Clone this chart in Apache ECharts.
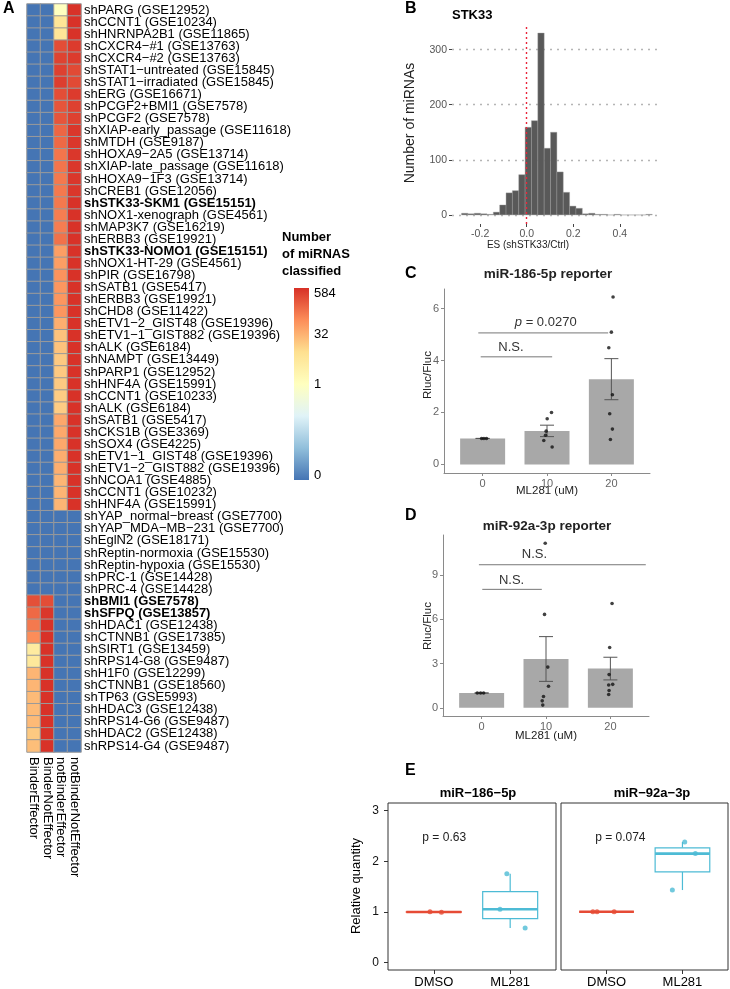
<!DOCTYPE html>
<html>
<head>
<meta charset="utf-8">
<script src="https://cdn.jsdelivr.net/npm/echarts@6/dist/echarts.min.js"></script>
<style>
  html, body { margin: 0; padding: 0; background: #fff; }
  #chart { width: 730px; height: 989px; }
</style>
</head>
<body>
<div id="chart"></div>
<script>
const FONT = "'Liberation Sans', Arial, Helvetica, sans-serif";

// ---- A: heatmap ----
const heatCols = ["BinderEffector", "BinderNotEffector", "notBinderEffector", "notBinderNotEffector"];
const heatRows = [
  "shPARG (GSE12952)", "shCCNT1 (GSE10234)", "shHNRNPA2B1 (GSE11865)", "shCXCR4−#1 (GSE13763)",
  "shCXCR4−#2 (GSE13763)", "shSTAT1−untreated (GSE15845)", "shSTAT1−irradiated (GSE15845)", "shERG (GSE16671)",
  "shPCGF2+BMI1 (GSE7578)", "shPCGF2 (GSE7578)", "shXIAP-early_passage (GSE11618)", "shMTDH (GSE9187)",
  "shHOXA9−2A5 (GSE13714)", "shXIAP-late_passage (GSE11618)", "shHOXA9−1F3 (GSE13714)", "shCREB1 (GSE12056)",
  "shSTK33-SKM1 (GSE15151)", "shNOX1-xenograph (GSE4561)", "shMAP3K7 (GSE16219)", "shERBB3 (GSE19921)",
  "shSTK33-NOMO1 (GSE15151)", "shNOX1-HT-29 (GSE4561)", "shPIR (GSE16798)", "shSATB1 (GSE5417)",
  "shERBB3 (GSE19921)", "shCHD8 (GSE11422)", "shETV1−2_GIST48 (GSE19396)", "shETV1−1_GIST882 (GSE19396)",
  "shALK (GSE6184)", "shNAMPT (GSE13449)", "shPARP1 (GSE12952)", "shHNF4A (GSE15991)",
  "shCCNT1 (GSE10233)", "shALK (GSE6184)", "shSATB1 (GSE5417)", "shCKS1B (GSE3369)",
  "shSOX4 (GSE4225)", "shETV1−1_GIST48 (GSE19396)", "shETV1−2_GIST882 (GSE19396)", "shNCOA1 (GSE4885)",
  "shCCNT1 (GSE10232)", "shHNF4A (GSE15991)", "shYAP_normal−breast (GSE7700)", "shYAP_MDA−MB−231 (GSE7700)",
  "shEglN2 (GSE18171)", "shReptin-normoxia (GSE15530)", "shReptin-hypoxia (GSE15530)", "shPRC-1 (GSE14428)",
  "shPRC-4 (GSE14428)", "shBMI1 (GSE7578)", "shSFPQ (GSE13857)", "shHDAC1 (GSE12438)",
  "shCTNNB1 (GSE17385)", "shSIRT1 (GSE13459)", "shRPS14-G8 (GSE9487)", "shH1F0 (GSE12299)",
  "shCTNNB1 (GSE18560)", "shTP63 (GSE5993)", "shHDAC3 (GSE12438)", "shRPS14-G6 (GSE9487)",
  "shHDAC2 (GSE12438)", "shRPS14-G4 (GSE9487)"
];
const boldRows = ["shSTK33-SKM1 (GSE15151)", "shSTK33-NOMO1 (GSE15151)", "shBMI1 (GSE7578)", "shSFPQ (GSE13857)"];

const binderEffector = [
  0, 0, 0, 0, 0, 0, 0, 0, 0, 0,
  0, 0, 0, 0, 0, 0, 0, 0, 0, 0,
  0, 0, 0, 0, 0, 0, 0, 0, 0, 0,
  0, 0, 0, 0, 0, 0, 0, 0, 0, 0,
  0, 0, 0, 0, 0, 0, 0, 0, 0,
  280, 160, 110, 70, 4, 5, 25, 25, 22, 22, 22, 15, 20
];
const binderNotEffector = [
  0, 0, 0, 0, 0, 0, 0, 0, 0, 0,
  0, 0, 0, 0, 0, 0, 0, 0, 0, 0,
  0, 0, 0, 0, 0, 0, 0, 0, 0, 0,
  0, 0, 0, 0, 0, 0, 0, 0, 0, 0,
  0, 0, 0, 0, 0, 0, 0, 0, 0,
  300, 500, 560, 560, 560, 560, 560, 560, 560, 560, 560, 560, 560
];
const notBinderEffector = [
  1, 6, 6, 300, 380, 400, 420, 300, 250, 250,
  170, 160, 120, 120, 110, 110, 110, 100, 100, 130,
  45, 45, 60, 55, 55, 55, 30, 18, 18, 15,
  15, 15, 14, 14, 35, 35, 35, 30, 30, 25,
  25, 25,
  0, 0, 0, 0, 0, 0, 0, 0, 0, 0,
  0, 0, 0, 0, 0, 0, 0, 0, 0, 0
];
const notBinderNotEffector = [
  560, 560, 560, 450, 450, 320, 320, 450, 400, 400,
  500, 500, 500, 500, 500, 500, 560, 560, 560, 560,
  560, 560, 560, 560, 560, 560, 560, 560, 560, 560,
  560, 560, 560, 560, 560, 560, 560, 560, 560, 560,
  560, 560,
  0, 0, 0, 0, 0, 0, 0, 0, 0, 0,
  0, 0, 0, 0, 0, 0, 0, 0, 0, 0
];
const legendTicks = [584, 32, 1, 0];
const heatPalette = ["#4575B4", "#91BFDB", "#E0F3F8", "#FFFFBF", "#FEE090", "#FC8D59", "#D73027"];

// ---- B: histogram ----
const histBinStart = -0.28;
const histBinWidth = 0.0273;
const histCounts = [3, 2, 3, 2, 1, 5, 18, 40, 44, 73, 159, 171, 330, 121, 150, 78, 41, 16, 12, 2, 3, 1, 1, 0, 1, 0, 0, 0, 0, 1];
const histXTicks = [-0.2, 0, 0.2, 0.4];
const histYTicks = [0, 100, 200, 300];

// ---- C: miR-186-5p reporter ----
const doses = [0, 10, 20];
const cMeans = [1.0, 1.29, 3.28];
const cSE = [0, 0.22, 0.79];
const cPointX = [-0.16, 0.2, 0.6, 10.7, 10.03, 9.87, 9.77, 9.5, 10.8, 20.26, 20.0, 19.6, 20.16, 19.74, 20.16, 19.85];
const cPointY = [1.0, 1.0, 1.0, 2.0, 1.76, 1.28, 1.12, 0.92, 0.67, 6.44, 5.09, 4.49, 2.68, 1.95, 1.36, 0.96];
const cSigLabels = ["{i|p} = 0.0270", "N.S."];
const cSig = [[-0.67, 19.5, 5.06, 9.8, 5.45], [-0.3, 10.8, 4.14, 4.4, 4.52]];
const cYTicks = [0, 2, 4, 6];

// ---- D: miR-92a-3p reporter ----
const dMeans = [1.0, 3.31, 2.66];
const dSE = [0, 1.52, 0.77];
const dPointX = [-0.67, -0.16, 0.31, 9.88, 9.77, 10.28, 10.39, 9.61, 9.41, 9.5, 20.26, 19.89, 19.8, 19.74, 20.36, 19.8, 19.74];
const dPointY = [1.0, 1.0, 1.0, 11.17, 6.34, 2.76, 1.46, 0.76, 0.47, 0.18, 7.08, 4.09, 2.25, 1.55, 1.59, 1.17, 0.9];
const dSigLabels = ["N.S.", "N.S."];
const dSig = [[-0.42, 25.5, 9.71, 8.2, 10.4], [0.1, 9.35, 8.04, 4.65, 8.65]];
const dYTicks = [0, 3, 6, 9];

// ---- E: qPCR ----
const eGroups = ["DMSO", "ML281"];
const eColors = ["#E64B35", "#4DBBD5"];
const e186DmsoX = [-0.05, 0.1];
const e186DmsoY = [1.0, 0.99];
const e186Ml281X = [0.956, 0.867, 1.196];
const e186Ml281Y = [1.75, 1.05, 0.68];
const e92DmsoX = [-0.18, -0.125, 0.1];
const e92DmsoY = [1.0, 1.0, 1.0];
const e92Ml281X = [1.03, 1.17, 0.867];
const e92Ml281Y = [2.38, 2.15, 1.43];
const ePLabels = ["p = 0.63", "p = 0.074"];
const ePPos = [[-0.15, 2.46], [-0.15, 2.46]];
const eYTicks = [0, 1, 2, 3];

// ---------- helpers ----------
const LMAX = Math.log2(584);
function heatT(v) {
  if (v <= 0) return 0;
  return Math.max(0, Math.min(1, (Math.log2(v) + LMAX) / (2 * LMAX)));
}

const heatCells = [];
[binderEffector, binderNotEffector, notBinderEffector, notBinderNotEffector].forEach((col, ci) => {
  col.forEach((v, ri) => heatCells.push([ci, ri, heatT(v), v]));
});

const histData = histCounts.map((c, i) => [histBinStart + i * histBinWidth, histBinStart + (i + 1) * histBinWidth, c]);

function quantile(sorted, p) {
  const h = (sorted.length - 1) * p;
  const lo = Math.floor(h);
  const hi = Math.min(lo + 1, sorted.length - 1);
  return sorted[lo] + (h - lo) * (sorted[hi] - sorted[lo]);
}
function boxStats(x, values) {
  const s = values.slice().sort((a, b) => a - b);
  const q1 = quantile(s, 0.25), med = quantile(s, 0.5), q3 = quantile(s, 0.75);
  const iqr = q3 - q1;
  const inside = s.filter((v) => v >= q1 - 1.5 * iqr && v <= q3 + 1.5 * iqr);
  return [x, inside[0], q1, med, q3, inside[inside.length - 1]];
}

function renderHistBar(params, api) {
  const a = api.coord([api.value(0), api.value(2)]);
  const b = api.coord([api.value(1), 0]);
  return {
    type: "rect",
    shape: { x: a[0], y: a[1], width: b[0] - a[0], height: b[1] - a[1] },
    style: { fill: "#595959", stroke: "#9c9c9c", lineWidth: 0.4 },
  };
}

function renderErrorBar(params, api) {
  const x = api.value(0);
  const top = api.coord([x, api.value(2)]);
  const bot = api.coord([x, api.value(1)]);
  const half = 7;
  const st = { stroke: "#555", lineWidth: 1 };
  return {
    type: "group",
    children: [
      { type: "line", shape: { x1: top[0], y1: top[1], x2: bot[0], y2: bot[1] }, style: st },
      { type: "line", shape: { x1: top[0] - half, y1: top[1], x2: top[0] + half, y2: top[1] }, style: st },
      { type: "line", shape: { x1: bot[0] - half, y1: bot[1], x2: bot[0] + half, y2: bot[1] }, style: st },
    ],
  };
}

function sigRenderer(labels) {
  return function (params, api) {
    const p1 = api.coord([api.value(0), api.value(2)]);
    const p2 = api.coord([api.value(1), api.value(2)]);
    const t = api.coord([api.value(3), api.value(4)]);
    return {
      type: "group",
      children: [
        { type: "line", shape: { x1: p1[0], y1: p1[1], x2: p2[0], y2: p2[1] }, style: { stroke: "#777", lineWidth: 1 } },
        {
          type: "text",
          x: t[0],
          y: t[1],
          style: {
            text: labels[params.dataIndex],
            align: "center",
            verticalAlign: "middle",
            fontSize: 13,
            fontFamily: FONT,
            fill: "#333",
            rich: { i: { fontStyle: "italic", fontSize: 13, fontFamily: FONT, fill: "#333" } },
          },
        },
      ],
    };
  };
}

function renderBox(params, api) {
  const x = api.value(0);
  const lo = api.value(1), q1 = api.value(2), med = api.value(3), q3 = api.value(4), hi = api.value(5);
  const w = 0.36;
  const color = eColors[params.dataIndex];
  const a = api.coord([x - w, q3]);
  const b = api.coord([x + w, q1]);
  const m1 = api.coord([x - w, med]);
  const m2 = api.coord([x + w, med]);
  const wt = api.coord([x, hi]);
  const wq3 = api.coord([x, q3]);
  const wb = api.coord([x, lo]);
  const wq1 = api.coord([x, q1]);
  return {
    type: "group",
    children: [
      { type: "line", shape: { x1: wt[0], y1: wt[1], x2: wq3[0], y2: wq3[1] }, style: { stroke: color, lineWidth: 1.2 } },
      { type: "line", shape: { x1: wb[0], y1: wb[1], x2: wq1[0], y2: wq1[1] }, style: { stroke: color, lineWidth: 1.2 } },
      { type: "rect", shape: { x: a[0], y: a[1], width: b[0] - a[0], height: b[1] - a[1] }, style: { fill: "#fff", stroke: color, lineWidth: 1.2 } },
      { type: "line", shape: { x1: m1[0], y1: m1[1], x2: m2[0], y2: m2[1] }, style: { stroke: color, lineWidth: 2.6 } },
    ],
  };
}

function pTextRenderer(labels) {
  return function (params, api) {
    const p = api.coord([api.value(0), api.value(1)]);
    return {
      type: "text",
      x: p[0],
      y: p[1],
      style: { text: labels[params.dataIndex], align: "left", verticalAlign: "middle", fontSize: 12, fontFamily: FONT, fill: "#222" },
    };
  };
}

function points(xs, ys) {
  return xs.map((x, i) => [x, ys[i]]);
}
function groupPoints(xs0, ys0, xs1, ys1) {
  return [
    ...xs0.map((x, i) => ({ value: [x, ys0[i]], itemStyle: { color: eColors[0] } })),
    ...xs1.map((x, i) => ({ value: [x, ys1[i]], itemStyle: { color: eColors[1] } })),
  ];
}

function txt(x, y, text, o = {}) {
  return {
    type: "text",
    x,
    y,
    rotation: o.rotation || 0,
    silent: true,
    style: {
      text,
      fontFamily: FONT,
      fontSize: o.size || 13,
      fontWeight: o.bold ? "bold" : "normal",
      fill: o.color || "#000",
      align: o.align || "center",
      verticalAlign: "middle",
    },
  };
}

// value axis with custom ticks, ggplot-like
function valueAxis(grid, min, max, ticks, o = {}) {
  return {
    type: "value",
    gridIndex: grid,
    min,
    max,
    axisLine: { show: !!o.line, onZero: false, lineStyle: { color: "#8a8a8a", width: 1 } },
    axisTick: { show: o.ticks !== false, customValues: ticks, length: o.tickLen || 3, lineStyle: { color: o.tickColor || "#8a8a8a" } },
    axisLabel: {
      show: o.labels !== false,
      customValues: ticks,
      color: o.labelColor || "#666",
      fontSize: o.labelSize || 11,
      fontFamily: FONT,
      margin: o.margin || 5,
      formatter: o.formatter,
    },
    splitLine: o.split || { show: false },
  };
}

const chart = echarts.init(document.getElementById("chart"));

const colorbarTop = 288, colorbarBottom = 480;
const legendGraphics = legendTicks.map((v) => txt(314, 293 + (1 - heatT(v)) * 182, String(v), { align: "left", size: 13 }));

const option = {
  animation: false,
  textStyle: { fontFamily: FONT },
  grid: [
    { left: 27, top: 4, width: 54, height: 748 },
    { left: 452, top: 24, width: 210, height: 200 },
    { left: 444, top: 289, width: 206, height: 184 },
    { left: 443, top: 535, width: 206, height: 181 },
    { left: 388, top: 803, width: 168, height: 167, show: true, borderColor: "#333", borderWidth: 1 },
    { left: 561, top: 803, width: 167, height: 167, show: true, borderColor: "#333", borderWidth: 1 },
  ],
  xAxis: [
    {
      type: "category",
      gridIndex: 0,
      data: heatCols,
      position: "bottom",
      axisLine: { show: false },
      axisTick: { show: false },
      splitLine: { show: false },
      axisLabel: { rotate: -90, interval: 0, fontSize: 13, color: "#000", margin: 5, fontFamily: FONT },
    },
    valueAxis(1, -0.321, 0.581, histXTicks, { tickColor: "#444", labelColor: "#555", labelSize: 10.5, formatter: (v) => v.toFixed(1) }),
    valueAxis(2, -6, 26, doses, { line: true }),
    valueAxis(3, -6, 26, doses, { line: true }),
    valueAxis(4, -0.6, 1.6, [0, 1], { tickLen: 4, tickColor: "#333", labelColor: "#000", labelSize: 13, margin: 6, formatter: (v) => eGroups[v] }),
    valueAxis(5, -0.6, 1.6, [0, 1], { tickLen: 4, tickColor: "#333", labelColor: "#000", labelSize: 13, margin: 6, formatter: (v) => eGroups[v] }),
  ],
  yAxis: [
    {
      type: "category",
      gridIndex: 0,
      data: heatRows,
      inverse: true,
      position: "right",
      axisLine: { show: false },
      axisTick: { show: false },
      splitLine: { show: false },
      axisLabel: {
        interval: 0,
        fontSize: 13,
        color: "#000",
        margin: 3,
        fontFamily: FONT,
        formatter: (v) => (boldRows.includes(v) ? `{b|${v}}` : v),
        rich: { b: { fontWeight: "bold", fontSize: 13, color: "#000", fontFamily: FONT } },
      },
    },
    valueAxis(1, -16.5, 346.5, histYTicks, {
      tickColor: "#444",
      labelColor: "#555",
      labelSize: 10.5,
      split: { show: true, lineStyle: { color: "#b5b5b5", type: [2, 5], width: 1.3 } },
    }),
    valueAxis(2, -0.33, 6.75, cYTicks, { line: true }),
    valueAxis(3, -0.56, 11.73, dYTicks, { line: true }),
    valueAxis(4, -0.15, 3.15, eYTicks, { tickLen: 4, tickColor: "#333", labelColor: "#111", labelSize: 12, margin: 9 }),
    valueAxis(5, -0.15, 3.15, eYTicks, { ticks: false, labels: false }),
  ],
  visualMap: [
    { type: "continuous", show: false, min: 0, max: 1, dimension: 2, seriesIndex: 0, inRange: { color: heatPalette } },
  ],
  series: [
    {
      type: "heatmap",
      xAxisIndex: 0,
      yAxisIndex: 0,
      data: heatCells,
      itemStyle: { borderColor: "#9a9a9a", borderWidth: 1 },
      emphasis: { disabled: true },
      progressive: 0,
    },
    {
      type: "custom",
      xAxisIndex: 1,
      yAxisIndex: 1,
      data: histData,
      renderItem: renderHistBar,
      z: 3,
      markLine: {
        silent: true,
        symbol: "none",
        label: { show: false },
        lineStyle: { color: "#e8253a", type: [2, 3], width: 1.4 },
        data: [{ xAxis: 0 }],
      },
    },
    // C
    { type: "bar", xAxisIndex: 2, yAxisIndex: 2, data: points(doses, cMeans), barWidth: 45, itemStyle: { color: "#a8a8a8" } },
    { type: "custom", xAxisIndex: 2, yAxisIndex: 2, data: doses.map((d, i) => [d, cMeans[i] - cSE[i], cMeans[i] + cSE[i]]), renderItem: renderErrorBar, z: 4 },
    { type: "scatter", xAxisIndex: 2, yAxisIndex: 2, data: points(cPointX, cPointY), symbolSize: 3.6, itemStyle: { color: "#111" }, z: 5 },
    { type: "custom", xAxisIndex: 2, yAxisIndex: 2, data: cSig, renderItem: sigRenderer(cSigLabels), z: 5 },
    // D
    { type: "bar", xAxisIndex: 3, yAxisIndex: 3, data: points(doses, dMeans), barWidth: 45, itemStyle: { color: "#a8a8a8" } },
    { type: "custom", xAxisIndex: 3, yAxisIndex: 3, data: doses.map((d, i) => [d, dMeans[i] - dSE[i], dMeans[i] + dSE[i]]), renderItem: renderErrorBar, z: 4 },
    { type: "scatter", xAxisIndex: 3, yAxisIndex: 3, data: points(dPointX, dPointY), symbolSize: 3.6, itemStyle: { color: "#111" }, z: 5 },
    { type: "custom", xAxisIndex: 3, yAxisIndex: 3, data: dSig, renderItem: sigRenderer(dSigLabels), z: 5 },
    // E left
    { type: "custom", xAxisIndex: 4, yAxisIndex: 4, data: [boxStats(0, e186DmsoY), boxStats(1, e186Ml281Y)], renderItem: renderBox, z: 3 },
    { type: "scatter", xAxisIndex: 4, yAxisIndex: 4, data: groupPoints(e186DmsoX, e186DmsoY, e186Ml281X, e186Ml281Y), symbolSize: 5, z: 5 },
    { type: "custom", xAxisIndex: 4, yAxisIndex: 4, data: [ePPos[0]], renderItem: pTextRenderer([ePLabels[0]]), z: 5 },
    // E right
    { type: "custom", xAxisIndex: 5, yAxisIndex: 5, data: [boxStats(0, e92DmsoY), boxStats(1, e92Ml281Y)], renderItem: renderBox, z: 3 },
    { type: "scatter", xAxisIndex: 5, yAxisIndex: 5, data: groupPoints(e92DmsoX, e92DmsoY, e92Ml281X, e92Ml281Y), symbolSize: 5, z: 5 },
    { type: "custom", xAxisIndex: 5, yAxisIndex: 5, data: [ePPos[1]], renderItem: pTextRenderer([ePLabels[1]]), z: 5 },
  ],
  graphic: [
    // panel letters
    txt(3, 9, "A", { bold: true, size: 16, align: "left" }),
    txt(405, 9, "B", { bold: true, size: 16, align: "left" }),
    txt(405, 274, "C", { bold: true, size: 16, align: "left" }),
    txt(405, 516, "D", { bold: true, size: 16, align: "left" }),
    txt(405, 771, "E", { bold: true, size: 16, align: "left" }),
    // A legend
    txt(282, 237, "Number", { bold: true, align: "left" }),
    txt(282, 254, "of miRNAS", { bold: true, align: "left" }),
    txt(282, 271, "classified", { bold: true, align: "left" }),
    {
      type: "rect",
      silent: true,
      shape: { x: 294, y: colorbarTop, width: 15, height: colorbarBottom - colorbarTop },
      style: {
        fill: new echarts.graphic.LinearGradient(0, 0, 0, 1,
          heatPalette.slice().reverse().map((c, i, arr) => ({ offset: i / (arr.length - 1), color: c }))),
      },
    },
    ...legendGraphics,
    // B
    txt(452, 15, "STK33", { bold: true, align: "left" }),
    txt(410, 123, "Number of miRNAs", { size: 14, rotation: Math.PI / 2, color: "#222" }),
    txt(528, 245, "ES (shSTK33/Ctrl)", { size: 10, color: "#222" }),
    // C
    txt(548, 274, "miR-186-5p reporter", { bold: true, size: 13.5, color: "#222" }),
    txt(428, 375, "Rluc/Fluc", { size: 11.5, rotation: Math.PI / 2, color: "#222" }),
    txt(547, 491, "ML281 (uM)", { size: 11.5, color: "#222" }),
    // D
    txt(547, 526, "miR-92a-3p reporter", { bold: true, size: 13.5, color: "#222" }),
    txt(428, 626, "Rluc/Fluc", { size: 11.5, rotation: Math.PI / 2, color: "#222" }),
    txt(546, 736, "ML281 (uM)", { size: 11.5, color: "#222" }),
    // E
    txt(478, 793, "miR−186−5p", { bold: true, size: 13 }),
    txt(652, 793, "miR−92a−3p", { bold: true, size: 13 }),
    txt(356, 886, "Relative quantity", { size: 13, rotation: Math.PI / 2 }),
  ],
};

chart.setOption(option);
</script>
</body>
</html>
